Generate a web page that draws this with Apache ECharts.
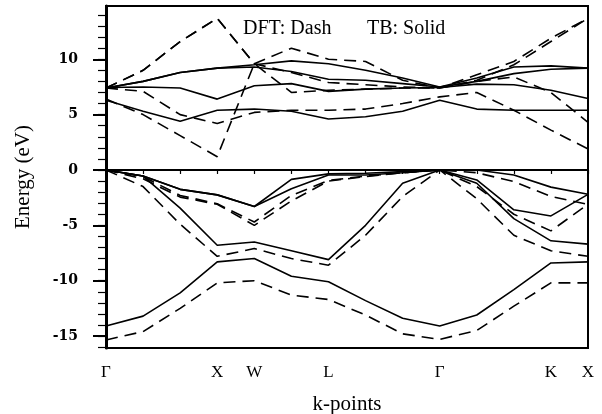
<!DOCTYPE html>
<html>
<head>
<meta charset="utf-8">
<script src="https://cdn.jsdelivr.net/npm/echarts@6/dist/echarts.min.js"></script>
<style>
  html, body { margin: 0; padding: 0; background: #fff; }
  #chart { width: 602px; height: 414px; }
</style>
</head>
<body>
<div id="chart"></div>
<script>
// k-point path, one entry per sampled point (labels only at high-symmetry points)
const kPoints = ['Γ', '', '', 'X', 'W', '', 'L', '', '', 'Γ', '', '', 'K', 'X'];
const yTicks = [-15, -10, -5, 0, 5, 10];
const yMinorTicks = [-16, -15, -14, -13, -12, -11, -10, -9, -8, -7, -6, -5, -4, -3, -2, -1,
  0, 1, 2, 3, 4, 5, 6, 7, 8, 9, 10, 11, 12, 13, 14];

// TB bands (solid)
const tbValence1 = [-14.1, -13.2, -11.1, -8.3, -8.0, -9.6, -10.1, -11.8, -13.4, -14.1, -13.1, -10.8, -8.4, -8.3];
const tbValence2 = [0, -0.55, -3.45, -6.8, -6.5, -7.3, -8.1, -5.0, -1.2, 0, -1.2, -4.4, -6.4, -6.7];
const tbValence3 = [0, -0.55, -1.75, -2.25, -3.3, -1.7, -0.45, -0.45, -0.25, 0, -0.9, -3.6, -4.15, -2.2];
const tbValence4 = [0, -0.55, -1.75, -2.25, -3.3, -0.85, -0.35, -0.3, -0.15, 0, 0, -0.45, -1.55, -2.2];
const tbCond1 = [6.3, 5.3, 4.4, 5.4, 5.5, 5.3, 4.6, 4.8, 5.3, 6.3, 5.5, 5.4, 5.4, 5.4];
const tbCond2 = [7.45, 7.5, 7.4, 6.4, 7.6, 7.8, 7.1, 7.3, 7.4, 7.45, 7.75, 7.7, 7.2, 6.45];
const tbCond3 = [7.4, 8.0, 8.8, 9.2, 9.3, 8.9, 8.2, 8.1, 7.8, 7.5, 8.0, 8.7, 9.1, 9.2];
const tbCond4 = [7.4, 8.0, 8.8, 9.2, 9.5, 9.85, 9.6, 9.0, 8.3, 7.5, 8.3, 9.3, 9.4, 9.2];

// DFT bands (dashed)
const dftValence1 = [-15.35, -14.6, -12.5, -10.2, -10.0, -11.3, -11.7, -13.1, -14.8, -15.3, -14.5, -12.3, -10.2, -10.2];
const dftValence2 = [0, -1.5, -4.9, -7.8, -7.1, -8.0, -8.6, -5.9, -2.4, 0, -2.6, -5.9, -7.3, -7.8];
const dftValence3 = [0, -0.8, -2.45, -3.1, -5.0, -2.8, -1.0, -0.6, -0.25, 0, -1.5, -4.0, -5.5, -3.1];
const dftValence4 = [0, -0.6, -2.3, -3.05, -4.7, -2.3, -0.95, -0.55, -0.25, 0, -0.25, -1.05, -2.4, -3.1];
const dftCond1 = [7.4, 9.0, 11.6, 13.7, 9.6, 11.0, 10.0, 9.8, 8.1, 7.4, 8.6, 9.8, 11.9, 13.7];
const dftCond2 = [6.4, 5.0, 3.1, 1.2, 9.6, 7.0, 7.2, 7.3, 7.4, 7.4, 8.1, 9.5, 11.6, 13.7];
const dftCond3 = [7.4, 7.1, 5.0, 4.2, 5.2, 5.4, 5.4, 5.5, 6.0, 6.6, 7.0, 5.4, 3.6, 1.9];
const dftCond4 = [7.4, 9.0, 11.6, 13.7, 9.6, 8.8, 7.9, 7.7, 7.5, 7.4, 8.0, 8.4, 7.0, 4.3];

const tbBands = [tbValence1, tbValence2, tbValence3, tbValence4, tbCond1, tbCond2, tbCond3, tbCond4];
const dftBands = [dftValence1, dftValence2, dftValence3, dftValence4, dftCond1, dftCond2, dftCond3, dftCond4];

const serif = '"Liberation Serif", "DejaVu Serif", serif';

const bandSeries = (bands, name, dash) => bands.map((b) => ({
  name: name,
  type: 'line',
  data: b,
  symbol: 'none',
  silent: true,
  lineStyle: { color: '#000', width: 1.6, type: dash }
}));

const chart = echarts.init(document.getElementById('chart'));

chart.setOption({
  animation: false,
  backgroundColor: '#fff',
  grid: {
    left: 106, right: 14, top: 6, bottom: 66,
    containLabel: false,
    outerBoundsMode: 'none',
    show: true, borderColor: '#000', borderWidth: 2, backgroundColor: 'transparent'
  },
  xAxis: {
    type: 'category',
    data: kPoints,
    boundaryGap: false,
    name: 'k-points',
    nameLocation: 'middle',
    nameGap: 46,
    nameTextStyle: { fontFamily: serif, fontSize: 21, color: '#000' },
    axisLine: { lineStyle: { color: '#000', width: 2 } },
    axisTick: { interval: 0, length: 4, lineStyle: { color: '#000', width: 1.2 } },
    axisLabel: { interval: 0, margin: 16, fontFamily: serif, fontSize: 17, color: '#000' },
    splitLine: { show: false }
  },
  yAxis: [
    {
      type: 'value',
      min: -16.08,
      max: 14.81,
      name: 'Energy (eV)',
      nameLocation: 'middle',
      nameRotate: 90,
      nameGap: 72,
      nameTextStyle: { fontFamily: serif, fontSize: 21, color: '#000' },
      axisLine: { show: true, lineStyle: { color: '#000', width: 3 } },
      axisTick: { show: true, customValues: yTicks, length: 13, lineStyle: { color: '#000', width: 2 } },
      axisLabel: {
        customValues: yTicks, margin: 28, fontFamily: '"DejaVu Serif", serif',
        fontWeight: 'bold', fontSize: 14, color: '#000'
      },
      splitLine: { show: false }
    },
    {
      type: 'value',
      min: -16.08,
      max: 14.81,
      position: 'left',
      axisLine: { show: false },
      axisTick: { show: true, customValues: yMinorTicks, length: 8, lineStyle: { color: '#000', width: 1.2 } },
      axisLabel: { show: false },
      splitLine: { show: false }
    }
  ],
  graphic: [
    { type: 'text', left: 243, top: 19, style: { text: 'DFT: Dash', font: '20px ' + serif, fill: '#000' } },
    { type: 'text', left: 367, top: 19, style: { text: 'TB: Solid', font: '20px ' + serif, fill: '#000' } }
  ],
  series: [
    ...bandSeries(dftBands, 'DFT', [12, 7]),
    ...bandSeries(tbBands, 'TB', 'solid')
  ]
});
</script>
</body>
</html>
